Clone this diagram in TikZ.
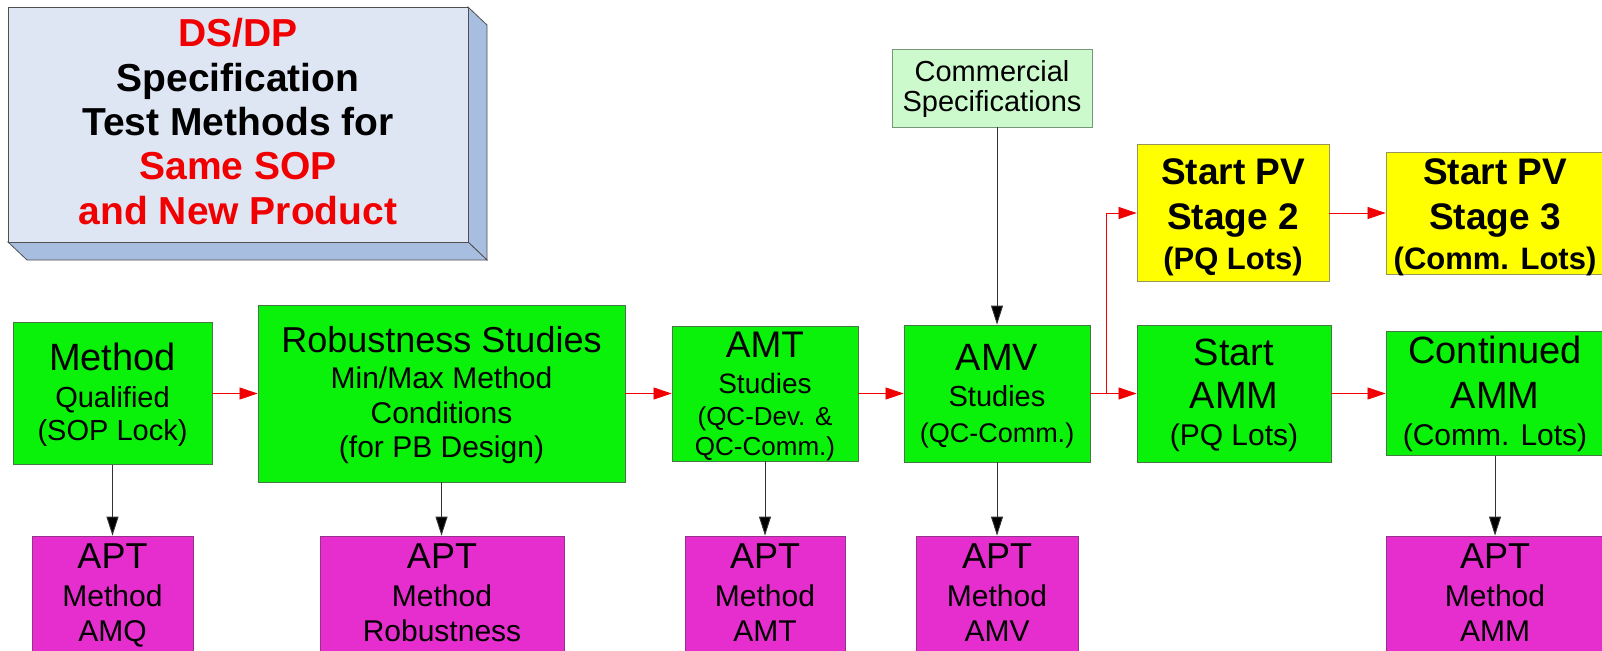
\documentclass[tikz,border=0pt]{standalone}
\usepackage{fontspec}
\setmainfont{Liberation Sans}
\usetikzlibrary{arrows.meta}

\definecolor{stepgreen}{RGB}{10,242,10}
\definecolor{greenedge}{RGB}{70,120,70}
\definecolor{aptmagenta}{RGB}{230,45,205}
\definecolor{aptedge}{RGB}{150,50,140}
\definecolor{pvyellow}{RGB}{255,255,0}
\definecolor{pvedge}{RGB}{150,150,90}
\definecolor{specgreen}{RGB}{204,250,204}
\definecolor{specedge}{RGB}{120,150,120}
\definecolor{panelfront}{RGB}{222,230,244}
\definecolor{panelside}{RGB}{168,190,224}
\definecolor{paneledge}{RGB}{80,80,80}
\definecolor{titlered}{RGB}{240,0,0}
\definecolor{flowred}{RGB}{240,0,0}
\definecolor{linegray}{RGB}{50,50,50}

% one line of text at a given size (regular / bold)
\newcommand\tsz[2]{{\fontsize{#1pt}{#1pt}\selectfont #2}}
\newcommand\bsz[2]{{\fontsize{#1pt}{#1pt}\selectfont\bfseries #2}}

\begin{document}
\begin{tikzpicture}[x=1pt,y=-1pt,
  leading/.style={font={\fontsize{#1pt}{#1pt}\selectfont\lineskiplimit=-200pt\relax}},
  stagebox/.style={rectangle,inner sep=0pt,align=center,text depth=0pt,line width=0.8pt},
  greenbox/.style={stagebox,fill=stepgreen,draw=greenedge},
  aptbox/.style={stagebox,fill=aptmagenta,draw=aptedge,minimum height=130pt,
                 leading=35,text height=80pt},
  pvbox/.style={stagebox,fill=pvyellow,draw=pvedge,leading=40,text height=112pt},
  flow/.style={draw=flowred,line width=0.7pt,
               -{Triangle[length=18pt,width=12pt,fill=flowred]}},
  feed/.style={draw=linegray,line width=0.9pt,
               -{Triangle[length=19pt,width=12pt,fill=black]}},
]
\path[use as bounding box,fill=white] (0,0) rectangle (1602,650);

% raised title panel
\filldraw[fill=panelside,draw=paneledge,line width=0.8pt]
  (468,7) -- (487,25) -- (487,260) -- (468,242) -- cycle;
\filldraw[fill=panelside,draw=paneledge,line width=0.8pt]
  (8,242) -- (468,242) -- (487,260) -- (27,260) -- cycle;
\node[stagebox,fill=panelfront,draw=paneledge,minimum width=460pt,minimum height=235pt,
      leading=44.3,text height=199pt] (panel) at (238,124.5)
  {\textcolor{titlered}{\bsz{39}{DS/DP}}\\
   \bsz{39}{Specification}\\
   \bsz{39}{Test Methods for}\\
   \textcolor{titlered}{\bsz{39}{Same SOP}}\\
   \textcolor{titlered}{\bsz{39}{and New Product}}};

% commercial specifications
\node[stagebox,fill=specgreen,draw=specedge,minimum width=200pt,minimum height=78pt,
      leading=30,text height=48pt] (comm) at (992,88)
  {\tsz{29}{Commercial}\\\tsz{29}{Specifications}};

% main row of study stages
\node[greenbox,leading=33,text height=93pt,minimum width=199pt,minimum height=142pt]
  (meth) at (112.5,393.5)
  {\tsz{38}{Method}\\[4pt]\tsz{29}{Qualified}\\\tsz{29}{(SOP Lock)}};
\node[greenbox,leading=35,text height=127pt,minimum width=367pt,minimum height=177pt]
  (rob) at (441.5,393.5)
  {\tsz{36}{Robustness Studies}\\[1pt]\tsz{30}{Min/Max Method}\\\tsz{30}{Conditions}\\[-1pt]\tsz{30}{(for PB Design)}};
\node[greenbox,leading=31,text height=123pt,minimum width=186pt,minimum height=135pt]
  (amt) at (765,393.5)
  {\tsz{37}{AMT}\\[5pt]\tsz{28}{Studies}\\[1pt]\tsz{26}{(QC-Dev. \&}\\[-1pt]\tsz{26}{QC-Comm.)}};
\node[greenbox,leading=36,text height=97pt,minimum width=186pt,minimum height=137pt]
  (amv) at (997,393.5)
  {\tsz{38}{AMV}\\\tsz{29}{Studies}\\\tsz{27}{(QC-Comm.)}};
\node[greenbox,leading=37,text height=103pt,minimum width=194pt,minimum height=137pt]
  (ammstart) at (1234,393.5)
  {\tsz{38}{Start}\\[6pt]\tsz{38}{AMM}\\\tsz{30}{(PQ Lots)}};
\node[greenbox,leading=37,text height=103pt,minimum width=218pt,minimum height=124pt]
  (ammcont) at (1495,393.5)
  {\tsz{38}{Continued}\\[8pt]\tsz{38}{AMM}\\\tsz{30}{(Comm. Lots)}};

% process validation stages
\node[pvbox,minimum width=192pt,minimum height=137pt] (pvtwo) at (1233,213)
  {\bsz{37}{Start PV}\\[4.5pt]\bsz{37}{Stage 2}\\\bsz{31}{(PQ Lots)}};
\node[pvbox,minimum width=218pt,minimum height=122pt] (pvthree) at (1495,213)
  {\bsz{37}{Start PV}\\[4.5pt]\bsz{37}{Stage 3}\\\bsz{31}{(Comm. Lots)}};

% APT method boxes
\node[aptbox,minimum width=161pt] (aptq) at (112.5,601)
  {\tsz{36}{APT}\\[3pt]\tsz{30}{Method}\\\tsz{30}{AMQ}};
\node[aptbox,minimum width=244pt] (aptr) at (442,601)
  {\tsz{36}{APT}\\[3pt]\tsz{30}{Method}\\\tsz{30}{Robustness}};
\node[aptbox,minimum width=160pt] (aptt) at (765,601)
  {\tsz{36}{APT}\\[3pt]\tsz{30}{Method}\\\tsz{30}{AMT}};
\node[aptbox,minimum width=162pt] (aptv) at (997,601)
  {\tsz{36}{APT}\\[3pt]\tsz{30}{Method}\\\tsz{30}{AMV}};
\node[aptbox,minimum width=218pt] (aptm) at (1495,601)
  {\tsz{36}{APT}\\[3pt]\tsz{30}{Method}\\\tsz{30}{AMM}};

% red process flow
\coordinate (split) at (1106,393.5);
\draw[flow] (meth.east) -- (rob.west);
\draw[flow] (rob.east) -- (amt.west);
\draw[flow] (amt.east) -- (amv.west);
\draw[flow] (amv.east) -- (ammstart.west);
\draw[flow] (split) |- (pvtwo.west);
\draw[flow] (pvtwo.east) -- (pvthree.west);
\draw[flow] (ammstart.east) -- (ammcont.west);

% black feeds
\draw[feed] (comm.south -| amv.north) -- (amv.north);
\draw[feed] (meth.south) -- (meth.south |- aptq.north);
\draw[feed] (rob.south) -- (rob.south |- aptr.north);
\draw[feed] (amt.south) -- (amt.south |- aptt.north);
\draw[feed] (amv.south) -- (amv.south |- aptv.north);
\draw[feed] (ammcont.south) -- (ammcont.south |- aptm.north);
\end{tikzpicture}
\end{document}
